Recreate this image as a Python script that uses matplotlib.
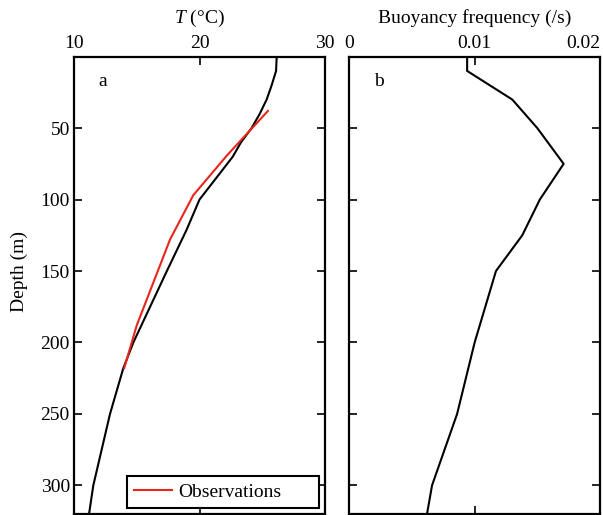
import matplotlib
matplotlib.use("Agg")
import matplotlib.pyplot as plt

plt.rcParams["font.family"] = ["Liberation Serif", "DejaVu Serif"]
plt.rcParams["mathtext.fontset"] = "custom"
plt.rcParams["mathtext.it"] = "Liberation Serif:italic"
plt.rcParams["font.size"] = 14

# modelled temperature profile
depth_model = [0, 10, 20, 30, 40, 50, 60, 70, 100, 121, 150, 200, 218, 250, 300, 320]
temp_model = [26.15, 26.1, 25.75, 25.35, 24.8, 24.15, 23.3, 22.65, 20.0, 18.98, 17.4, 14.73, 13.93, 12.87, 11.54, 11.2]

# observed temperature
depth_obs = [38, 69, 97, 128, 188, 218]
temp_obs = [25.45, 22.2, 19.5, 17.65, 15.0, 14.0]

# buoyancy frequency profile
depth_n = [0, 10, 30, 50, 75, 100, 125, 150, 200, 250, 300, 320]
freq_n = [0.0094, 0.0094, 0.0130, 0.0150, 0.0171, 0.0152, 0.0138, 0.0117, 0.0100, 0.0086, 0.0066, 0.0062]

fig = plt.figure(figsize=(6.03, 5.15), dpi=100)
ax1 = fig.add_axes([0.1227, 0.002, 0.4163, 0.888])
ax2 = fig.add_axes([0.5793, 0.002, 0.4157, 0.888])

# panel a: temperature
ax1.plot(temp_model, depth_model, color="black", lw=1.5)
ax1.plot(temp_obs, depth_obs, color="#e8251b", lw=1.5, label="Observations")
ax1.set_xlim(10, 30)
ax1.set_xticks([10, 20, 30])
ax1.set_ylabel("Depth (m)")
ax1.yaxis.set_label_coords(-0.185, 0.53)
ax1.set_title(r"$T$ (°C)", pad=24, fontsize=14)
ax1.text(0.116, 0.946, "a", transform=ax1.transAxes, ha="center", va="center")
leg = ax1.legend(loc="lower left", bbox_to_anchor=(0.21, 0.0138, 0.766, 0.074),
                 mode="expand", borderaxespad=0, fancybox=False, framealpha=1,
                 edgecolor="black", handlelength=2.0, handletextpad=0.3,
                 borderpad=0.35)
leg.get_frame().set_linewidth(1.5)

# panel b: buoyancy frequency
ax2.plot(freq_n, depth_n, color="black", lw=1.5)
ax2.set_xlim(0, 0.02)
ax2.set_xticks([0, 0.01, 0.02])
ax2.set_xticklabels(["0", "0.01", "0.02"])
ax2.set_title("Buoyancy frequency (/s)", pad=24, fontsize=14)
ax2.text(0.12, 0.946, "b", transform=ax2.transAxes, ha="center", va="center")

for ax in (ax1, ax2):
    ax.set_ylim(320, 0)
    ax.set_yticks([50, 100, 150, 200, 250, 300])
    ax.tick_params(direction="in", length=6, width=1.2, top=True, bottom=True,
                   left=True, right=True, labeltop=True, labelbottom=False,
                   labelsize=14, pad=3)
    for s in ax.spines.values():
        s.set_linewidth(1.6)
ax2.tick_params(labelleft=False)
# keep the last label inside the figure
ax2.xaxis.get_major_ticks()[-1].label2.set_horizontalalignment("right")

fig.savefig("out.png", dpi=100)
